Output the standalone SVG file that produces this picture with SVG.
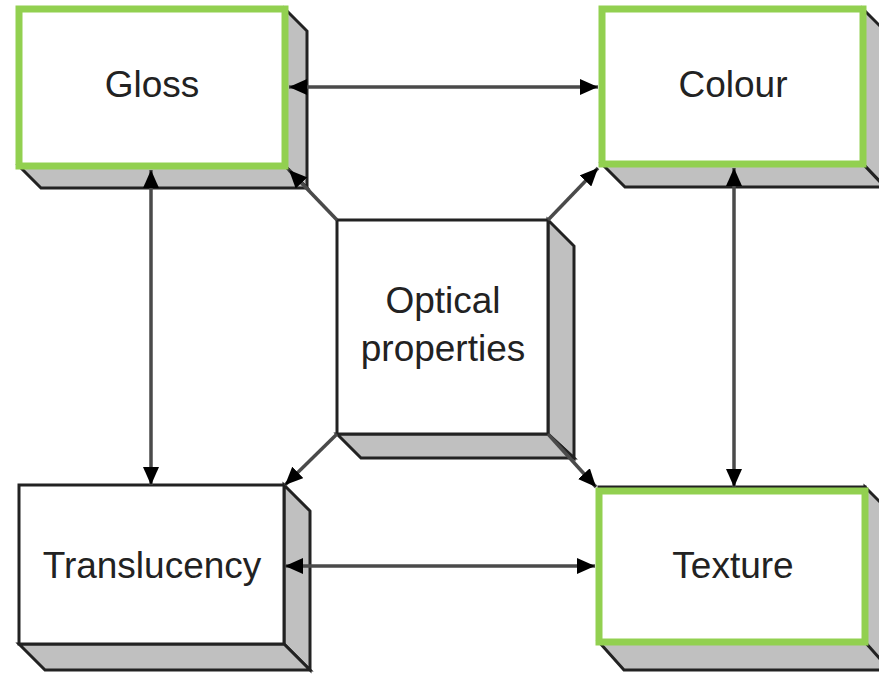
<svg xmlns="http://www.w3.org/2000/svg" width="879" height="674" viewBox="0 0 879 674">
<defs>
<style>
.side{fill:#c0c0c0;stroke:#222;stroke-width:3;stroke-linejoin:miter}
.front{fill:#fff;stroke:#222;stroke-width:3}
.green{fill:#fff;stroke:#92d050;stroke-width:7}
.lbl{font-family:"Liberation Sans",Arial,sans-serif;font-size:37px;fill:#222;text-anchor:middle}
.conn{fill:none;stroke:#4a4a4a;stroke-width:3.5}
</style>
<marker id="ah" viewBox="0 0 18 16" refX="18" refY="8" markerWidth="18" markerHeight="16" markerUnits="userSpaceOnUse" orient="auto-start-reverse">
<path d="M0,0 L18,8 L0,16 Z" fill="#000"/>
</marker>
</defs>
<rect width="879" height="674" fill="#fff"/>
<g id="gloss">
<polygon class="side" points="285,9 307,31 307,188 285,166"/>
<polygon class="side" points="19,166 285,166 307,188 41,188"/>
<rect class="green" x="19" y="9" width="266" height="157"/>
<text class="lbl" x="152" y="97">Gloss</text>
</g>
<g id="colour">
<polygon class="side" points="863,9 885,31 885,187 863,164"/>
<polygon class="side" points="602,164 863,164 885,187 625,187"/>
<rect class="green" x="602" y="9" width="261" height="155"/>
<text class="lbl" x="733" y="97">Colour</text>
</g>
<g id="optical">
<polygon class="side" points="548,220 574,246 574,458 548,434"/>
<polygon class="side" points="337,434 548,434 574,458 361,458"/>
<rect class="front" x="337" y="220" width="211" height="214"/>
<text class="lbl" x="443" y="313">Optical</text>
<text class="lbl" x="443" y="361">properties</text>
</g>
<g id="translucency">
<polygon class="side" points="284,485 310,511 310,670 284,644"/>
<polygon class="side" points="19,644 284,644 310,670 45,670"/>
<rect class="front" x="19" y="485" width="265" height="159"/>
<text class="lbl" x="152" y="578">Translucency</text>
</g>
<g id="texture">
<polygon class="side" points="865,487 890,512 890,670 865,645"/>
<polygon class="side" points="599,642 865,642 890,670 624,670"/>
<rect class="front" x="599" y="487" width="266" height="155"/>
<rect class="green" x="599" y="491" width="266" height="151"/>
<text class="lbl" x="733" y="578">Texture</text>
</g>
<g id="connectors">
<line class="conn" x1="289" y1="87" x2="598" y2="87" marker-start="url(#ah)" marker-end="url(#ah)"/>
<line class="conn" x1="151" y1="170" x2="151" y2="485" marker-start="url(#ah)" marker-end="url(#ah)"/>
<line class="conn" x1="734" y1="168" x2="734" y2="487" marker-start="url(#ah)" marker-end="url(#ah)"/>
<line class="conn" x1="285" y1="566" x2="595" y2="566" marker-start="url(#ah)" marker-end="url(#ah)"/>
<line class="conn" x1="337" y1="220" x2="289" y2="170" marker-end="url(#ah)"/>
<line class="conn" x1="548" y1="220" x2="598" y2="168" marker-end="url(#ah)"/>
<line class="conn" x1="337" y1="434" x2="285" y2="485" marker-end="url(#ah)"/>
<line class="conn" x1="548" y1="434" x2="596" y2="487" marker-end="url(#ah)"/>
</g>
</svg>
